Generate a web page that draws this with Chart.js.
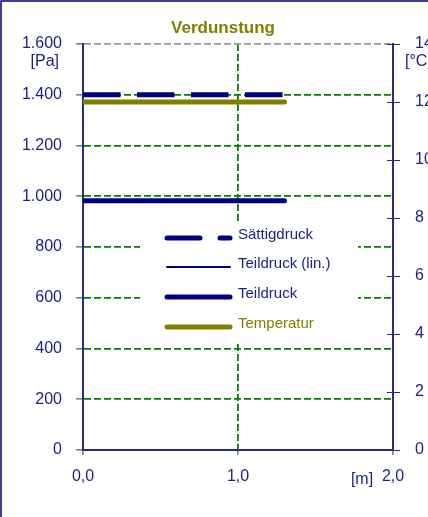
<!DOCTYPE html>
<html>
<head>
<meta charset="utf-8">
<script src="https://cdn.jsdelivr.net/npm/chart.js@4.4.1/dist/chart.umd.min.js"></script>
<style>
  html, body { margin: 0; padding: 0; background: #fff; }
  #wrap { width: 428px; height: 517px; }
</style>
</head>
<body>
<div id="wrap"><canvas id="myChart" width="428" height="517"></canvas></div>
<script>
// values
const xRange = [0.0, 1.3];          // [m]
const saettigdruck = [1400, 1400];  // [Pa]
const teildruckLin = [982, 982];    // [Pa]
const teildruck = [982, 982];       // [Pa]
const temperatur = [12, 12];        // [°C]

const xTickLabels = ['0,0', '1,0', '2,0'];
const paTickLabels = ['0', '200', '400', '600', '800', '1.000', '1.200', '1.400', '1.600'];
const cTickLabels = ['0', '2', '4', '6', '8', '10', '12', '14'];

const legendNames = ['Sättigdruck', 'Teildruck (lin.)', 'Teildruck', 'Temperatur'];

const navy = '#000080';
const axisNavy = '#2a2a7c';
const textNavy = '#1c1c8e';
const olive = '#808000';
const green = '#008000';
const font = 'Liberation Sans, Arial, sans-serif';

function pts(ys) {
  return xRange.map((x, i) => ({ x: x, y: ys[i] }));
}

const ctx = document.getElementById('myChart').getContext('2d');

// frame, title, units, legend box, right axis crosses
const extras = {
  id: 'extras',
  beforeDraw(chart) {
    const c = chart.ctx;
    c.save();
    c.fillStyle = '#fff';
    c.fillRect(0, 0, chart.width, chart.height);
    c.restore();
  },
  afterDatasetsDraw(chart) {
    const c = chart.ctx;
    const a = chart.chartArea;
    const y1 = chart.scales.y1;
    c.save();
    // outer frame (left + top visible)
    c.strokeStyle = navy;
    c.lineWidth = 1.5;
    c.beginPath();
    c.moveTo(1, chart.height);
    c.lineTo(1, 1);
    c.lineTo(chart.width, 1);
    c.stroke();

    // inner half of the right axis ticks
    c.strokeStyle = axisNavy;
    c.lineWidth = 1;
    y1.ticks.forEach(t => {
      const py = Math.round(y1.getPixelForValue(t.value)) + 0.5;
      c.beginPath();
      c.moveTo(a.right - 6, py);
      c.lineTo(a.right, py);
      c.stroke();
    });

    // title
    c.fillStyle = olive;
    c.font = 'bold 17px ' + font;
    c.textAlign = 'center';
    c.textBaseline = 'middle';
    c.fillText('Verdunstung', 223, 28);

    // units
    c.fillStyle = textNavy;
    c.font = '16px ' + font;
    c.textAlign = 'right';
    c.fillText('[Pa]', 59, 62);
    c.textAlign = 'left';
    c.fillText('[°C]', 405, 62);
    c.textAlign = 'center';
    c.fillText('[m]', 362, 480);

    // legend box
    const bx = 140, by = 222, bw = 218, bh = 120;
    c.fillStyle = '#fff';
    c.fillRect(bx, by, bw, bh);
    const rows = [238, 267, 297, 327];
    const sx0 = 167, sx1 = 230;
    c.lineCap = 'round';
    // Sättigdruck
    c.strokeStyle = navy;
    c.lineWidth = 5;
    c.beginPath(); c.moveTo(sx0, rows[0]); c.lineTo(200, rows[0]); c.stroke();
    c.beginPath(); c.moveTo(220, rows[0]); c.lineTo(sx1, rows[0]); c.stroke();
    // Teildruck (lin.)
    c.lineWidth = 2;
    c.beginPath(); c.moveTo(sx0, rows[1]); c.lineTo(sx1, rows[1]); c.stroke();
    // Teildruck
    c.lineWidth = 5;
    c.beginPath(); c.moveTo(sx0, rows[2]); c.lineTo(sx1, rows[2]); c.stroke();
    // Temperatur
    c.strokeStyle = olive;
    c.beginPath(); c.moveTo(sx0, rows[3]); c.lineTo(sx1, rows[3]); c.stroke();

    c.font = '15px ' + font;
    c.textAlign = 'left';
    c.textBaseline = 'middle';
    legendNames.forEach((n, i) => {
      c.fillStyle = i === 3 ? olive : textNavy;
      c.fillText(n, 238, rows[i] - 3);
    });
    c.restore();
  }
};

const myChart = new Chart(ctx, {
  type: 'line',
  data: {
    datasets: [
      {
        label: legendNames[1], data: pts(teildruckLin), yAxisID: 'y',
        borderColor: navy, borderWidth: 1.5, pointRadius: 0, order: 4
      },
      {
        label: legendNames[2], data: pts(teildruck), yAxisID: 'y',
        borderColor: navy, borderWidth: 5, borderCapStyle: 'round', pointRadius: 0, order: 3
      },
      {
        label: legendNames[3], data: pts(temperatur), yAxisID: 'y1',
        borderColor: olive, borderWidth: 5, borderCapStyle: 'round', pointRadius: 0, order: 2
      },
      {
        label: legendNames[0], data: pts(saettigdruck), yAxisID: 'y',
        borderColor: navy, borderWidth: 5, borderCapStyle: 'butt',
        borderDash: [37.5, 16.5], pointRadius: 0, order: 1
      }
    ]
  },
  options: {
    responsive: false,
    animation: false,
    layout: { padding: { left: 0, right: 0, top: 44, bottom: 0 } },
    plugins: { legend: { display: false }, title: { display: false }, tooltip: { enabled: false } },
    scales: {
      x: {
        type: 'linear', min: 0, max: 2,
        ticks: {
          stepSize: 1, padding: 12, color: textNavy, font: { family: font, size: 16 },
          callback: (v, i) => xTickLabels[i]
        },
        grid: {
          color: c => (c.tick && c.tick.value === 1 ? green : 'rgba(0,0,0,0)'),
          lineWidth: 1.8, tickLength: 5, tickColor: axisNavy, tickWidth: 1, tickBorderDash: []
        },
        border: { color: axisNavy, width: 2, dash: [7, 3] },
        afterFit: s => { s.height = 67; }
      },
      y: {
        position: 'left', min: 0, max: 1600,
        ticks: {
          stepSize: 200, padding: 14, color: textNavy, font: { family: font, size: 16 },
          callback: (v, i) => paTickLabels[i]
        },
        grid: {
          color: c => {
            if (!c.tick) return 'rgba(0,0,0,0)';
            if (c.tick.value === 0) return 'rgba(0,0,0,0)';
            if (c.tick.value === 1600) return '#999999';
            return green;
          },
          lineWidth: 1.8, tickLength: 7, tickColor: axisNavy, tickWidth: 1, tickBorderDash: []
        },
        border: { color: axisNavy, width: 2, dash: [7, 3] },
        afterFit: s => { s.width = 83; }
      },
      y1: {
        position: 'right', min: 0, max: 14,
        ticks: {
          stepSize: 2, padding: 15, color: textNavy, font: { family: font, size: 16 },
          callback: (v, i) => cTickLabels[i]
        },
        grid: {
          drawOnChartArea: false, tickLength: 7, tickColor: axisNavy, tickWidth: 1,
          color: axisNavy, tickBorderDash: []
        },
        border: { color: axisNavy, width: 2 },
        afterFit: s => { s.width = 35; }
      }
    }
  },
  plugins: [extras]
});
</script>
</body>
</html>
